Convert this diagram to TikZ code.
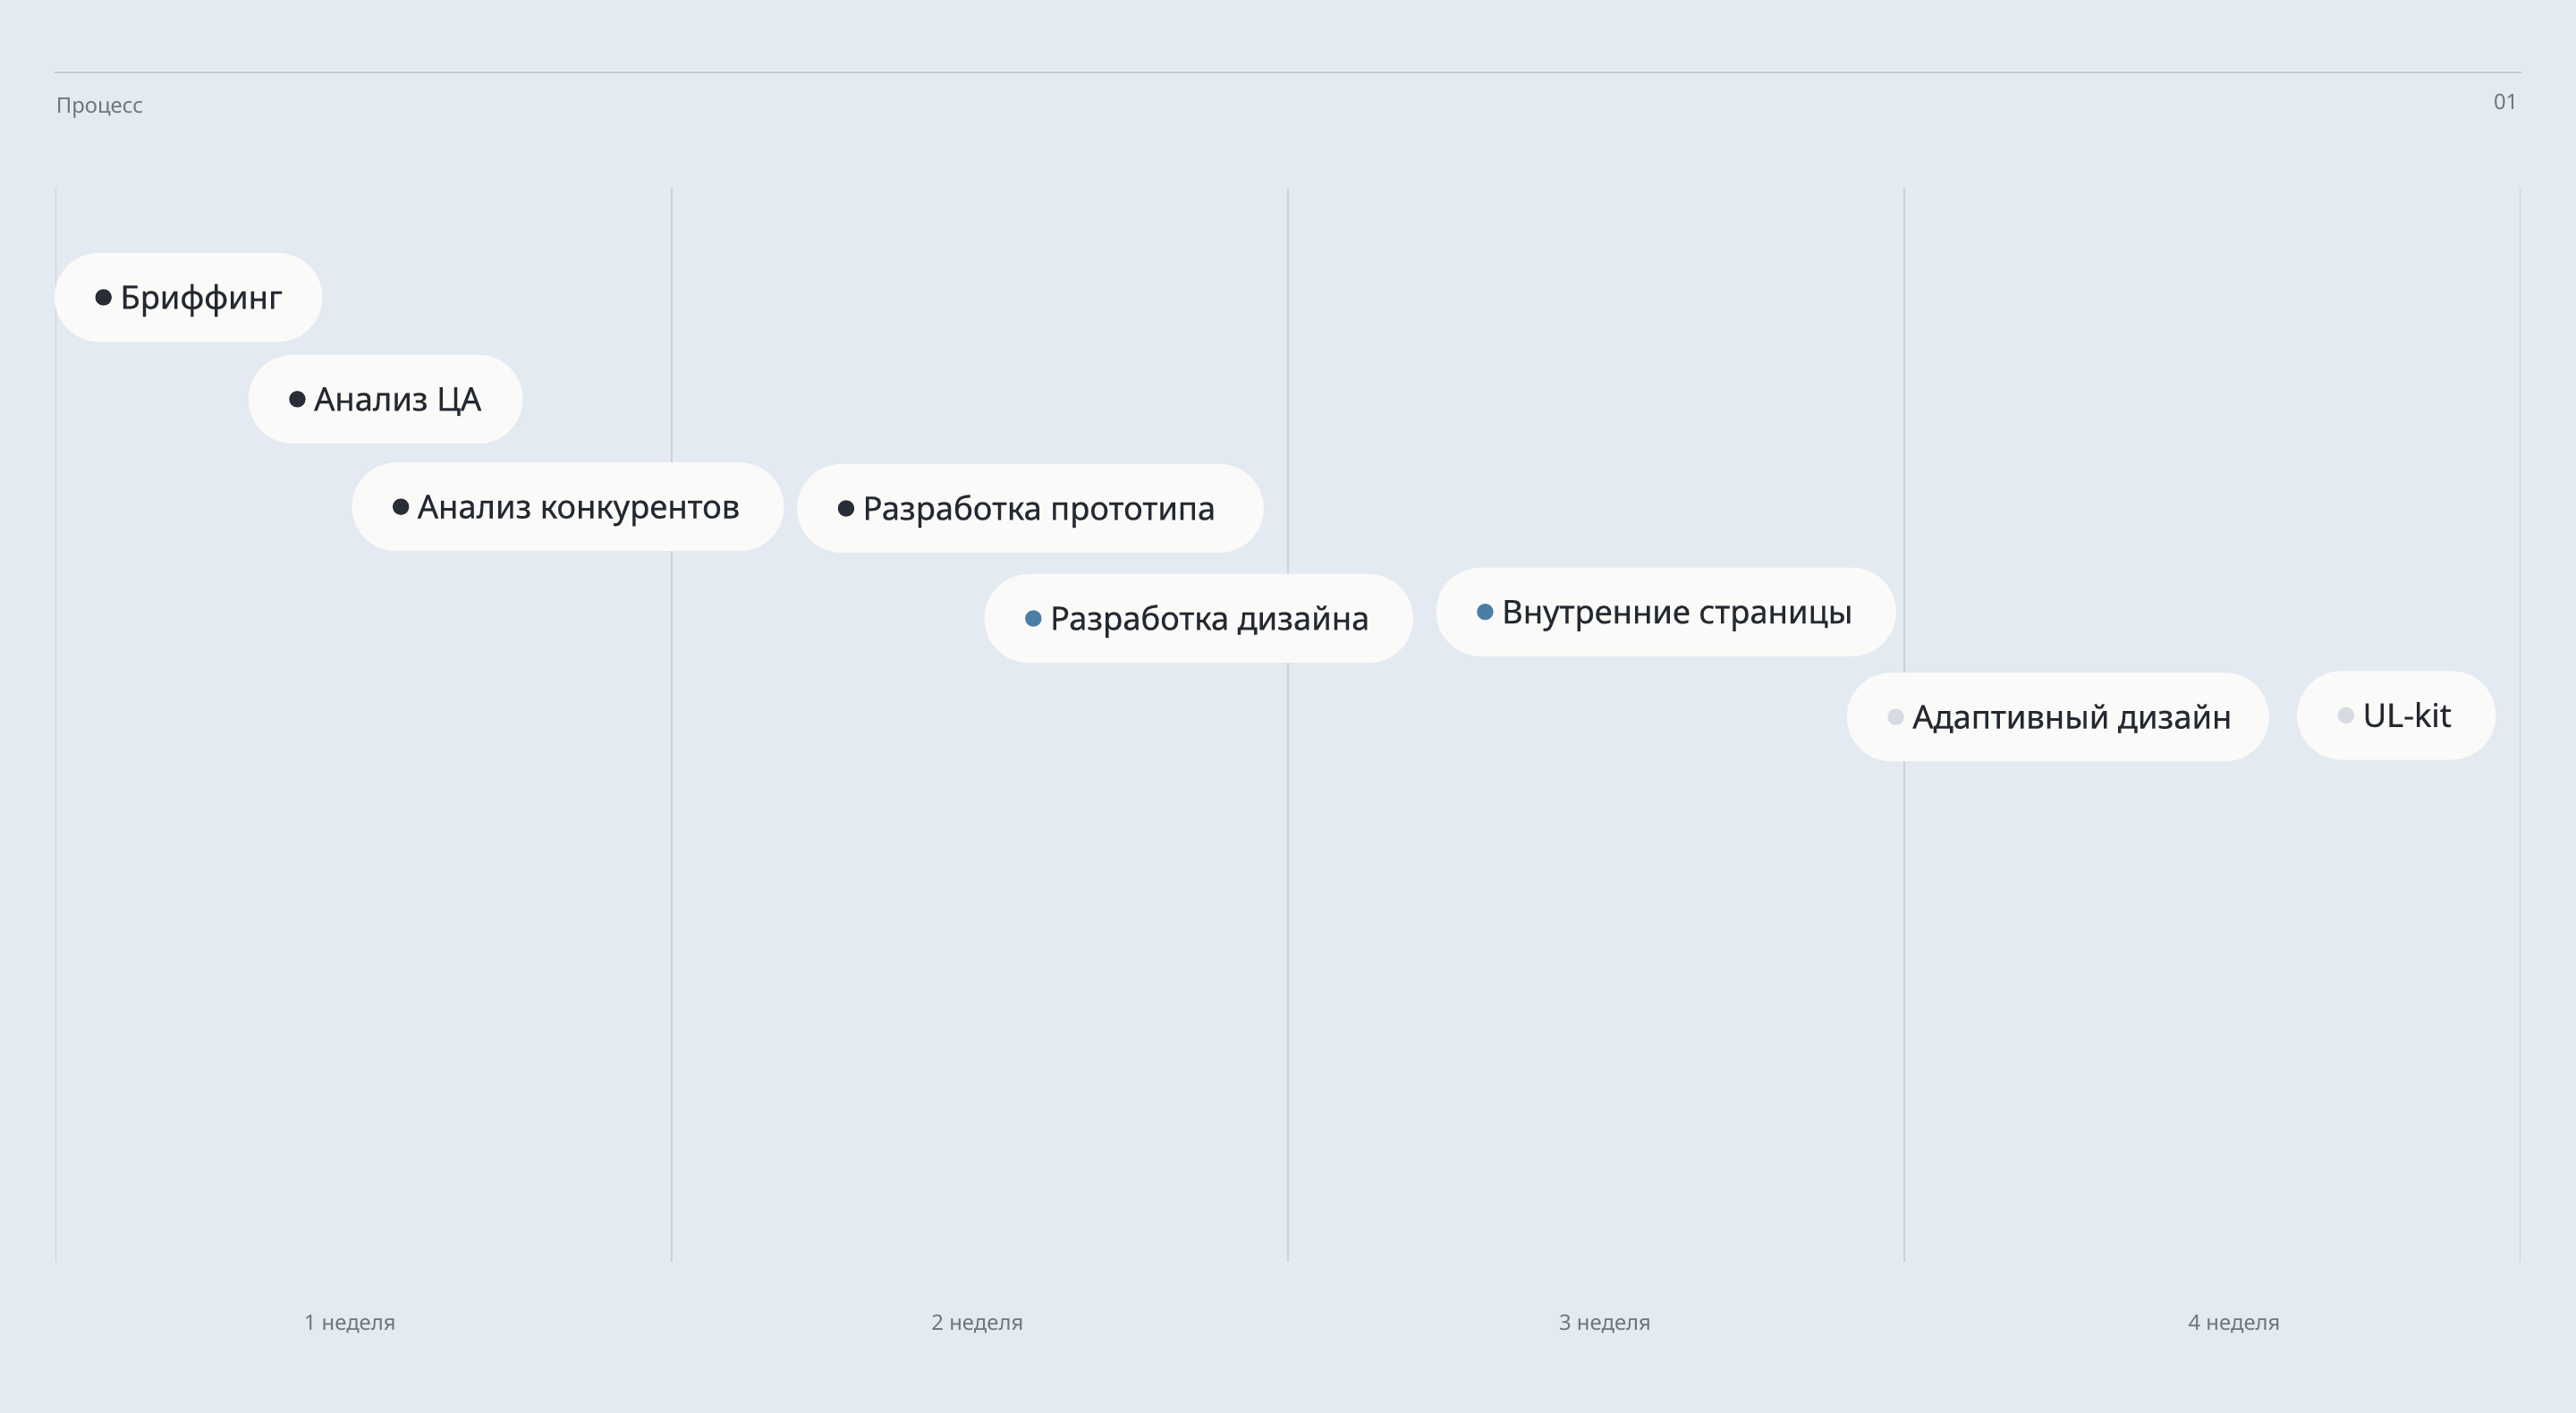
\documentclass[tikz,border=0pt]{standalone}
\usepackage{fontspec}
\setmainfont{Noto Sans}
\newfontfamily\taskfont[FakeBold=0.35]{Noto Sans}
\usetikzlibrary{calc}

\definecolor{bg}{RGB}{228,234,242}
\definecolor{rule}{RGB}{198,203,211}
\definecolor{gridline}{RGB}{204,208,215}
\definecolor{pillbg}{RGB}{250,250,248}
\definecolor{ink}{RGB}{36,40,48}
\definecolor{muted}{RGB}{112,117,125}
\definecolor{done}{RGB}{40,45,55}
\definecolor{active}{RGB}{74,126,166}
\definecolor{todo}{RGB}{214,219,225}

\tikzset{
  pill/.style={fill=pillbg, rounded corners=27pt, minimum height=54pt, inner sep=0pt, anchor=west},
  tasklabel/.style={anchor=base west, inner sep=0pt, text=ink, font=\taskfont\fontsize{19.8}{23}\selectfont},
  small/.style={text=muted, font=\fontsize{13}{15}\selectfont, inner sep=0pt},
}

% name, left x, centre y, width, dot colour, text
\newcommand{\task}[6]{%
  \node[pill, minimum width=#4pt] (#1) at (#2, #3) {};
  \fill[#5] ($(#1.west)+(30,0)$) circle (5pt);
  \node[tasklabel] (#1text) at ($(#1.west)+(40,7)$) {#6};
}

\begin{document}
\begin{tikzpicture}[x=1pt, y=-1pt]

\fill[bg] (0,0) rectangle (1568,860);
\useasboundingbox (0,0) rectangle (1568,860);

% header
\draw[rule, line width=1.2pt] (33,44) -- (1535,44);
\node[small, anchor=west] (title) at (34,66) {Процесс};
\node[small, anchor=east] (page) at (1533,62) {01};

% week columns
\foreach \x in {34,409,784,1159,1534}
  \draw[gridline, line width=0.9pt] (\x,115) -- (\x,768);

\node[small] (w1) at (213,806) {1 неделя};
\node[small] (w2) at (595,806) {2 неделя};
\node[small] (w3) at (977,806) {3 неделя};
\node[small] (w4) at (1360,806) {4 неделя};

% tasks
\task{brief}{33}{181}{163}{done}{Бриффинг}
\task{audience}{151}{243}{167}{done}{Анализ ЦА}
\task{rivals}{214}{308.5}{263}{done}{Анализ конкурентов}
\task{proto}{485}{309.5}{284}{done}{Разработка прототипа}
\task{design}{599}{376.5}{261}{active}{Разработка дизайна}
\task{inner}{874}{372.5}{280}{active}{Внутренние страницы}
\task{adapt}{1124}{436.5}{257}{todo}{Адаптивный дизайн}
\task{kit}{1398}{435.5}{121}{todo}{UL-kit}

\end{tikzpicture}
\end{document}
